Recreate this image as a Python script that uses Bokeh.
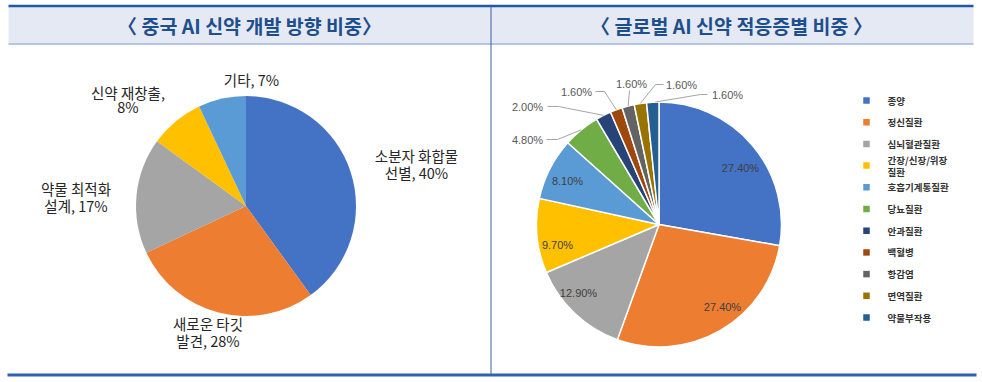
import math
from bokeh.plotting import figure
from bokeh.models import Range1d
from bokeh.core.properties import value
from bokeh.embed import file_html
from bokeh.resources import INLINE

# ---------------- data ----------------
left_title = "〈 중국 AI 신약 개발 방향 비중〉"
right_title = "〈 글로벌 AI 신약 적응증별 비중 〉"

left_names = ["소분자 화합물 선별", "새로운 타깃 발견", "약물 최적화 설계", "신약 재창출", "기타"]
left_values = [40, 28, 17, 8, 7]

right_names = ["종양", "정신질환", "심뇌혈관질환", "간장/신장/위장 질환", "호흡기계통질환",
               "당뇨질환", "안과질환", "백혈병", "항감염", "면역질환", "약물부작용"]
right_values = [27.4, 27.4, 12.9, 9.7, 8.1, 4.8, 2.0, 1.6, 1.6, 1.6, 1.6]

# ---------------- styles / layout ----------------
left_colors = ["#4472C4", "#ED7D31", "#A5A5A5", "#FFC000", "#5B9BD5"]
right_colors = ["#4472C4", "#ED7D31", "#A5A5A5", "#FFC000", "#5B9BD5", "#70AD47",
                "#264478", "#9E480E", "#636363", "#997300", "#255E91"]

FONT = value("Noto Sans CJK KR")
W, H = 982, 382
def Y(py):
    return H - py

p = figure(width=W, height=H, output_backend="svg", toolbar_location=None,
           x_range=Range1d(0, W), y_range=Range1d(0, H),
           min_border=0, outline_line_color=None, background_fill_color="white",
           x_axis_location=None, y_axis_location=None)
p.grid.visible = False

# header band & frame lines
p.quad(left=8, right=973, top=Y(6), bottom=Y(43), fill_color="#E4E9F4", line_color=None)
p.segment(x0=8, y0=Y(5.5), x1=973, y1=Y(5.5), line_color="#1F5AA6", line_width=2.5)
p.segment(x0=8, y0=Y(43.5), x1=973, y1=Y(43.5), line_color="#9DB3DB", line_width=1.5)
p.segment(x0=490.5, y0=Y(5), x1=490.5, y1=Y(374), line_color="#3C5F9E", line_width=1)
p.segment(x0=7, y0=Y(374.5), x1=976, y1=Y(374.5), line_color="#2E62B0", line_width=3)

p.text(x=[249, 731], y=[Y(25), Y(25)], text=[left_title, right_title],
       text_font=FONT, text_font_style="bold", text_font_size=value("19.5px"),
       text_color="#1F4E8C", text_align="center", text_baseline="middle")

def wedges(values, cx, cy, r, colors, line_color, line_width):
    tot = float(sum(values))
    cum = 0.0
    s, e = [], []
    for v in values:
        s.append(math.pi / 2 - 2 * math.pi * cum / tot)
        cum += v
        e.append(math.pi / 2 - 2 * math.pi * cum / tot)
    p.wedge(x=[cx] * len(values), y=[Y(cy)] * len(values), radius=r,
            start_angle=s, end_angle=e, direction="clock",
            fill_color=colors, line_color=line_color, line_width=line_width)
    mids = [(a + b) / 2 for a, b in zip(s, e)]
    return mids

# ---------------- left pie ----------------
LCX, LCY, LR = 245.5, 205.5, 110
wedges(left_values, LCX, LCY, LR, left_colors, None, 0)

left_label_break = ["선별", "발견", "설계", "8%", None]
left_label_pos = [(416, 155, 171.5), (207.5, 323, 339.5), (75.5, 188, 204.5), (127.5, 91.5, 105.5), (251, 79, None)]
lx, ly, lt = [], [], []
for name, v, brk, pos in zip(left_names, left_values, left_label_break, left_label_pos):
    lab = f"{name}, {v}%"
    if brk:
        i = lab.find(brk)
        lines = [lab[:i].rstrip(), lab[i:]]
    else:
        lines = [lab]
    for k, ln in enumerate(lines):
        lx.append(pos[0]); ly.append(Y(pos[1 + k])); lt.append(ln)
p.text(x=lx, y=ly, text=lt, text_font=FONT, text_font_size=value("14.5px"),
       text_color="#262626", text_align="center", text_baseline="middle")

# ---------------- right pie ----------------
RCX, RCY, RR = 658.5, 224, 122.5
mids = wedges(right_values, RCX, RCY, RR, right_colors, "white", 1.5)

# inside labels
inside_pos = [(740, 167), (722, 306), (578, 292), (557, 244), (567, 180)]
p.text(x=[q[0] for q in inside_pos], y=[Y(q[1]) for q in inside_pos],
       text=[f"{v:.2f}%" for v in right_values[:5]],
       text_font=value("Liberation Sans"), text_font_size=value("11px"),
       text_color="#404040", text_align="center", text_baseline="middle")

# outside labels with leader lines (label anchor, elbow)
out_label = [(527, 139), (527, 106), (576, 91), (631, 83), (681, 84), (727, 94)]
out_elbow = [[(546, 139), (557, 139)], [(547, 106), (558, 106)], [(595, 91), (604, 91)],
             [(629, 90)], [(663, 84), (655, 84)], [(707, 94), (700, 94)]]
ox, oy, ot = [], [], []
xs, ys = [], []
for k, idx in enumerate(range(5, 11)):
    a = mids[idx]
    if idx == 10:
        a -= 0.02
    ex = RCX + RR * math.cos(a)
    ey = RCY - RR * math.sin(a)
    pts = out_elbow[k] + [(ex, ey)]
    xs.append([q[0] for q in pts]); ys.append([Y(q[1]) for q in pts])
    ox.append(out_label[k][0]); oy.append(Y(out_label[k][1]))
    ot.append(f"{right_values[idx]:.2f}%")
p.multi_line(xs=xs, ys=ys, line_color="#A6A6A6", line_width=1)
p.text(x=ox, y=oy, text=ot, text_font=value("Liberation Sans"), text_font_size=value("11px"),
       text_color="#595959", text_align="center", text_baseline="middle")

# ---------------- legend ----------------
leg_x, leg_tx, leg_y0, leg_dy = 866, 887, 100, 21.7
mx, my, tx, ty, tt = [], [], [], [], []
for i, name in enumerate(right_names):
    yy = leg_y0 + leg_dy * i
    mx.append(leg_x); my.append(Y(yy))
    if name == "간장/신장/위장 질환":
        parts = name.split(" ")
        tx += [leg_tx, leg_tx]; ty += [Y(yy - 5.5), Y(yy + 6)]; tt += parts
    else:
        tx.append(leg_tx); ty.append(Y(yy)); tt.append(name)
p.rect(x=mx, y=my, width=6.5, height=6.5, fill_color=right_colors, line_color=None)
p.text(x=tx, y=ty, text=tt, text_font=FONT, text_font_size=value("9.5px"),
       text_font_style="bold", text_color="#333333", text_align="left", text_baseline="middle")

open("out.html", "w").write(file_html(p, INLINE))
